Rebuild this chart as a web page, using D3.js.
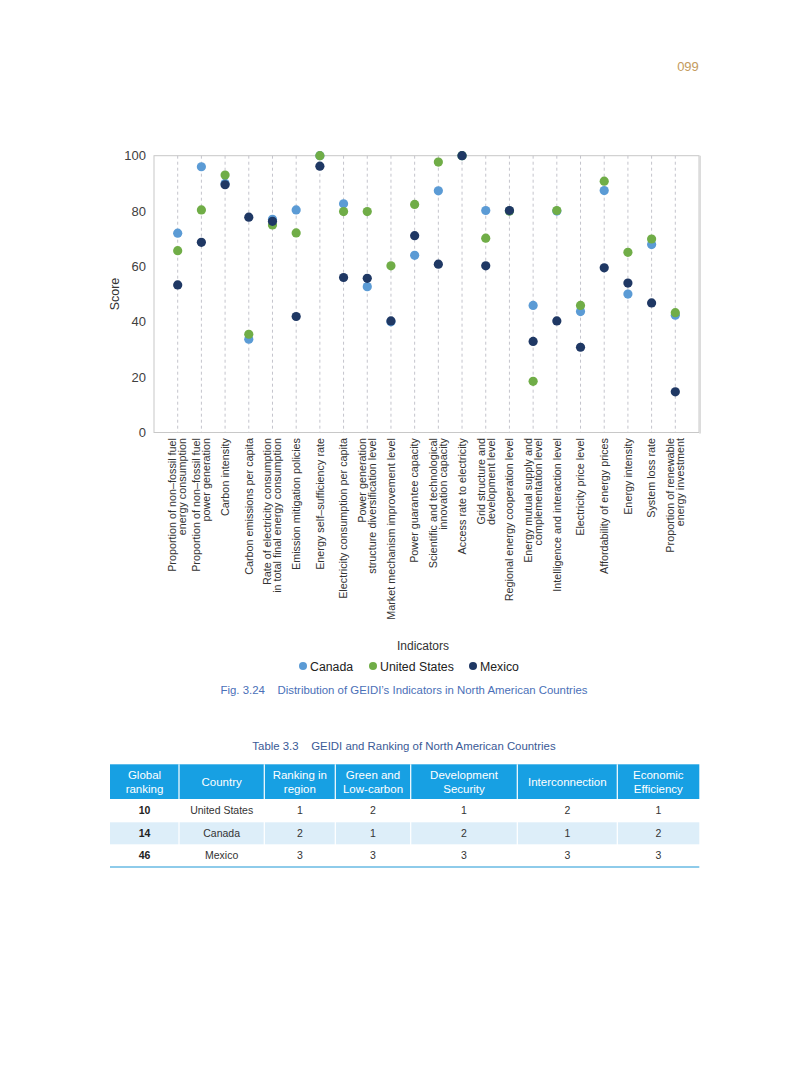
<!DOCTYPE html>
<html>
<head>
<meta charset="utf-8">
<script src="https://cdn.jsdelivr.net/npm/d3@7"></script>
<style>
  html, body { margin: 0; padding: 0; background: #ffffff; }
  svg { display: block; font-family: "Liberation Sans", Arial, sans-serif; }
</style>
</head>
<body>
<svg id="page" width="793" height="1077"></svg>
<script>
// ---------------- data ----------------
const categories = [
  "Proportion of non–fossil fuel\nenergy consumption",
  "Proportion of non–fossil fuel\npower generation",
  "Carbon intensity",
  "Carbon emissions per capita",
  "Rate of electricity consumption\nin total final energy consumption",
  "Emission mitigation policies",
  "Energy self–sufficiency rate",
  "Electricity consumption per capita",
  "Power generation\nstructure diversification level",
  "Market mechanism improvement level",
  "Power guarantee capacity",
  "Scientific and technological\ninnovation capacity",
  "Access rate to electricity",
  "Grid structure and\ndevelopment level",
  "Regional energy cooperation level",
  "Energy mutual supply and\ncomplementation level",
  "Intelligence and interaction level",
  "Electricity price level",
  "Affordability of energy prices",
  "Energy intensity",
  "System loss rate",
  "Proportion of renewable\nenergy investment"
];
const canada = [72, 96, 90, 33.7, 77, 80.4, 100, 82.6, 52.7, 40, 64, 87.3, 100, 80.2, 80, 45.9, 80, 43.7, 87.4, 50, 67.9, 42.4];
const unitedStates = [65.7, 80.4, 93, 35.5, 75, 72.1, 100, 79.8, 79.8, 60.2, 82.4, 97.7, 100, 70.2, 80, 18.5, 80.2, 45.9, 90.8, 65.1, 69.9, 43.3];
const mexico = [53.3, 68.7, 89.5, 77.8, 76.3, 41.9, 96.2, 56, 55.7, 40.3, 71.1, 60.8, 100, 60.2, 80.2, 32.9, 40.3, 30.8, 59.5, 54, 46.8, 14.7];
const seriesNames = ["Canada", "United States", "Mexico"];
const yTicks = [0, 20, 40, 60, 80, 100];

const tableHeaders = ["Global\nranking", "Country", "Ranking in\nregion", "Green and\nLow-carbon", "Development\nSecurity", "Interconnection", "Economic\nEfficiency"];
const globalRanking = ["10", "14", "46"];
const tableCountries = ["United States", "Canada", "Mexico"];
const rankingInRegion = ["1", "2", "3"];
const greenLowCarbon = ["2", "1", "3"];
const developmentSecurity = ["1", "2", "3"];
const interconnection = ["2", "1", "3"];
const economicEfficiency = ["1", "2", "3"];

// ---------------- layout ----------------
const svg = d3.select("#page");
const colors = {"Canada": "#5b9bd5", "United States": "#70ad47", "Mexico": "#1f3864"};
const L = 154, R = 699, T = 155.7, B = 432.5;

const x = d3.scalePoint().domain(categories).range([L, R]).padding(1);
const y = d3.scaleLinear().domain([0, 100]).range([B, T]);

// page number
svg.append("text").attr("x", 688).attr("y", 71).attr("text-anchor", "middle")
  .attr("font-size", 13).attr("fill", "#c49b5c").text("099");

// dashed verticals
svg.append("g").selectAll("line").data(categories).join("line")
  .attr("x1", d => x(d)).attr("x2", d => x(d))
  .attr("y1", T).attr("y2", B)
  .attr("stroke", "#c4c4cc").attr("stroke-width", 1).attr("stroke-dasharray", "3,3");

// frame
svg.append("rect").attr("x", L).attr("y", T).attr("width", R - L).attr("height", B - T)
  .attr("fill", "none").attr("stroke", "#c8c8c8").attr("stroke-width", 1);
svg.append("line").attr("x1", R + 1).attr("x2", R + 1).attr("y1", T).attr("y2", B + 1)
  .attr("stroke", "#dcdcdc").attr("stroke-width", 2);

// y axis
const yAxis = svg.append("g").attr("transform", `translate(${L},0)`)
  .call(d3.axisLeft(y).tickValues(yTicks).tickSize(0).tickPadding(8));
yAxis.select(".domain").remove();
yAxis.selectAll("text").attr("font-size", 13).attr("fill", "#404040")
  .attr("font-family", "Liberation Sans, Arial, sans-serif");

svg.append("text").attr("transform", "translate(119,294) rotate(-90)")
  .attr("text-anchor", "middle").attr("font-size", 12.5).attr("fill", "#333").text("Score");

// x labels
const xl = svg.append("g");
categories.forEach(c => {
  const lines = c.split("\n");
  lines.forEach((ln, i) => {
    const off = (i - (lines.length - 1) / 2) * 10;
    xl.append("text")
      .attr("transform", `translate(${x(c) + off},438) rotate(-90)`)
      .attr("text-anchor", "end").attr("dy", "0.35em")
      .attr("font-size", 10.8).attr("fill", "#333").text(ln);
  });
});

svg.append("text").attr("x", 423).attr("y", 650).attr("text-anchor", "middle")
  .attr("font-size", 12).attr("fill", "#333").text("Indicators");

// points (draw Canada, US, Mexico)
const seriesData = {"Canada": canada, "United States": unitedStates, "Mexico": mexico};
seriesNames.forEach(s => {
  svg.append("g").selectAll("circle").data(seriesData[s]).join("circle")
    .attr("cx", (d, i) => x(categories[i])).attr("cy", d => y(d))
    .attr("r", 4.6).attr("fill", colors[s]);
});

// legend
const legendX = [303, 373, 473];
seriesNames.forEach((s, i) => {
  svg.append("circle").attr("cx", legendX[i]).attr("cy", 666).attr("r", 4).attr("fill", colors[s]);
  svg.append("text").attr("x", legendX[i] + 7).attr("y", 670.5).attr("font-size", 12.3)
    .attr("fill", "#222").text(s);
});

// caption
svg.append("text").attr("x", 404).attr("y", 693.5).attr("text-anchor", "middle")
  .attr("font-size", 11.4).attr("fill", "#4a70b8").attr("xml:space", "preserve")
  .text("Fig. 3.24    Distribution of GEIDI’s Indicators in North American Countries");

// table title
svg.append("text").attr("x", 404).attr("y", 750).attr("text-anchor", "middle")
  .attr("font-size", 11.4).attr("fill", "#3a5a96").attr("xml:space", "preserve")
  .text("Table 3.3    GEIDI and Ranking of North American Countries");

// table
const colEdges = [110, 179, 264.3, 335.3, 410.7, 517.3, 617.3, 699.3];
const hTop = 764.3, hBot = 799, rowEdges = [799, 822.3, 844.3, 866];
const tbl = svg.append("g");
tbl.append("rect").attr("x", colEdges[0]).attr("y", hTop).attr("width", colEdges[7] - colEdges[0])
  .attr("height", hBot - hTop).attr("fill", "#17a0e3");
tbl.append("rect").attr("x", colEdges[0]).attr("y", rowEdges[1]).attr("width", colEdges[7] - colEdges[0])
  .attr("height", rowEdges[2] - rowEdges[1]).attr("fill", "#ddeef9");
colEdges.slice(1, 7).forEach(cx => {
  tbl.append("line").attr("x1", cx).attr("x2", cx).attr("y1", hTop).attr("y2", rowEdges[3])
    .attr("stroke", "#ffffff").attr("stroke-width", 1.2);
});
tbl.append("line").attr("x1", colEdges[0]).attr("x2", colEdges[7]).attr("y1", 867).attr("y2", 867)
  .attr("stroke", "#8ecbea").attr("stroke-width", 2);

tableHeaders.forEach((h, i) => {
  const cx = (colEdges[i] + colEdges[i + 1]) / 2;
  const lines = h.split("\n");
  lines.forEach((ln, j) => {
    const cy = (hTop + hBot) / 2 + (j - (lines.length - 1) / 2) * 14;
    tbl.append("text").attr("x", cx).attr("y", cy).attr("dy", "0.35em").attr("text-anchor", "middle")
      .attr("font-size", 11.5).attr("fill", "#ffffff").text(ln);
  });
});
const tableCols = [globalRanking, tableCountries, rankingInRegion, greenLowCarbon, developmentSecurity, interconnection, economicEfficiency];
tableCols.forEach((col, i) => {
  const cx = (colEdges[i] + colEdges[i + 1]) / 2;
  col.forEach((v, r) => {
    const cy = (rowEdges[r] + rowEdges[r + 1]) / 2;
    tbl.append("text").attr("x", cx).attr("y", cy).attr("dy", "0.35em").attr("text-anchor", "middle")
      .attr("font-size", 10.5).attr("font-weight", i === 0 ? "bold" : "normal")
      .attr("fill", i === 0 ? "#222" : "#333").text(v);
  });
});
</script>
</body>
</html>
